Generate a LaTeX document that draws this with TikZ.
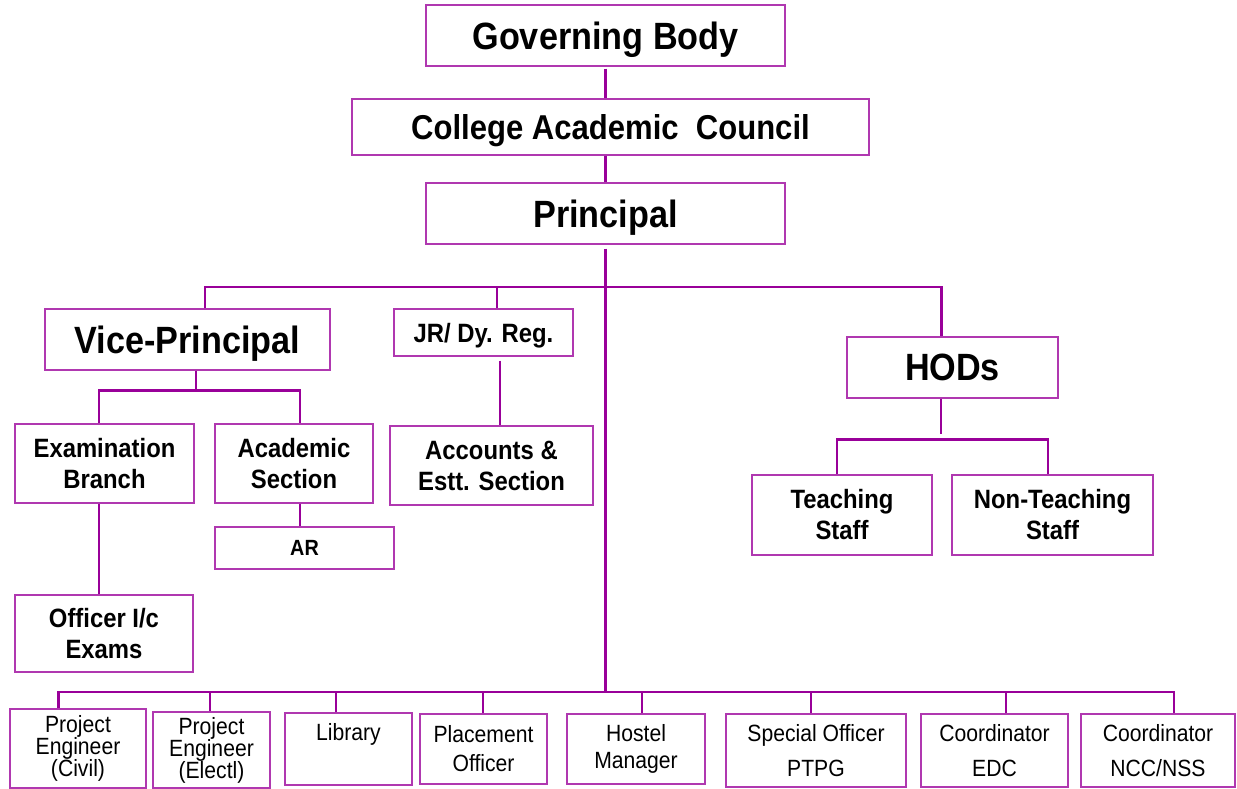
\documentclass[tikz,border=0pt]{standalone}
\usepackage{fontspec}
\setmainfont{Liberation Sans}[FakeStretch=0.9]
\usetikzlibrary{positioning}

\definecolor{orgline}{HTML}{990099}
\definecolor{orgbox}{HTML}{B038B0}

\tikzset{
  unit/.style={draw=orgbox, line width=1.3pt, inner sep=0pt, align=center},
  head/.style={unit, text depth=0pt, font=\fontsize{38}{44}\selectfont\bfseries},
  sub/.style={unit, font=\fontsize{26.5}{31}\selectfont\bfseries},
  leaf/.style={unit, font=\fontsize{23.5}{22}\selectfont},
  link/.style={draw=orgline, line width=2.8pt},
}

\begin{document}
\begin{tikzpicture}[x=1pt, y=-1pt]
  \useasboundingbox (0,0) rectangle (1237,788);
  % top of the chart
  \node[head, minimum width=359, minimum height=61] (gb) at (605.5, 35.5) {Governing Body};
  \node[head, font=\fontsize{34.5}{40}\selectfont\bfseries, minimum width=517, minimum height=56] (cac) at (610.5, 127) {College Academic\ \ Council};
  \node[head, minimum width=359, minimum height=61] (prin) at (605.5, 213.5) {Principal};
  \coordinate (topbus) at (605.5, 287);
  \coordinate (lowbus) at (605.5, 692);

  % second row
  \node[head, minimum width=285, minimum height=61] (vp) at (187.5, 339.5) {Vice-Principal};
  \node[sub, text depth=0pt, minimum width=179, minimum height=47] (jr) at (483.5, 332.5) {JR/ Dy. Reg.};
  \node[head, minimum width=211, minimum height=61] (hods) at (952.5, 367.5) {HODs};

  % sections
  \node[sub, minimum width=179, minimum height=79] (exam) at (104.5, 463.5) {Examination\\Branch};
  \node[sub, minimum width=158, minimum height=79] (acad) at (294, 463.5) {Academic\\Section};
  \node[sub, font=\fontsize{22}{26}\selectfont\bfseries, minimum width=179, minimum height=42] (ar) at (304.5, 548) {AR};
  \node[sub, minimum width=178, minimum height=77] (off) at (104, 633.5) {Officer I/c\\Exams};
  \node[sub, minimum width=203, minimum height=79] (acc) at (491.5, 465.5) {Accounts \&\\Estt. Section};
  \node[sub, minimum width=180, minimum height=80] (teach) at (842, 515) {Teaching\\Staff};
  \node[sub, minimum width=201, minimum height=80] (nont) at (1052.5, 515) {Non-Teaching\\Staff};

  % bottom row
  \node[leaf, minimum width=136, minimum height=79] (pe1) at (78, 748.5) {Project\\Engineer\\(Civil)};
  \node[leaf, minimum width=117, minimum height=76] (pe2) at (211.5, 750) {Project\\Engineer\\(Electl)};
  \node[leaf, minimum width=127, minimum height=72] (lib) at (348.5, 749) {Library\\[12pt]\mbox{}};
  \node[leaf, minimum width=127, minimum height=70] (plac) at (483.5, 749) {Placement\\[7pt]Officer};
  \node[leaf, minimum width=138, minimum height=70] (host) at (636, 749) {Hostel\\[5pt]Manager};
  \node[leaf, minimum width=180, minimum height=73] (spec) at (816, 750.5) {Special Officer\\[13pt]PTPG};
  \node[leaf, minimum width=147, minimum height=73] (edc) at (994.5, 750.5) {Coordinator\\[13pt]EDC};
  \node[leaf, minimum width=154, minimum height=73] (ncc) at (1158, 750.5) {Coordinator\\[13pt]NCC/NSS};

  % connectors
  \draw[link] ([yshift=-2]gb.south) -- (gb.south |- cac.north);
  \draw[link] (gb.south |- cac.south) -- (prin.north);
  \draw[link] ([yshift=-4]prin.south) -- (lowbus);
  \draw[link] ([xshift=17.5]vp.north) |- (topbus) -| ([xshift=-11]hods.north);
  \draw[link] ([xshift=13.5]jr.north) -- ([xshift=13.5]jr.north |- topbus);
  \draw[link] ([xshift=8.5]vp.south) -- ++(0,20) coordinate (vpbus);
  \draw[link] ([xshift=-5.5]exam.north) |- (vpbus) -| ([xshift=6]acad.north);
  \draw[link] ([xshift=6]acad.south) -- ([xshift=6]acad.south |- ar.north);
  \draw[link] ([xshift=-5.5]exam.south) -- ([xshift=-5.5]exam.south |- off.north);
  \draw[link] ([xshift=16.5, yshift=-4]jr.south) -- ([xshift=16.5]jr.south |- acc.north);
  \draw[link] ([xshift=-11.5]hods.south) -- ++(0,35);
  \draw[link] ([xshift=-5]teach.north) -- ++(0,-35) -| ([xshift=-4.5]nont.north);
  \draw[link] ([xshift=-19.5]pe1.north) |- (lowbus) -| ([xshift=16]ncc.north);
  \foreach \n/\s in {pe2/-1.5, lib/-12.5, plac/-0.5, host/6, spec/-5, edc/11.5}
    \draw[link] ([xshift=\s]\n.north) -- ([xshift=\s]\n.north |- lowbus);
\end{tikzpicture}
\end{document}
